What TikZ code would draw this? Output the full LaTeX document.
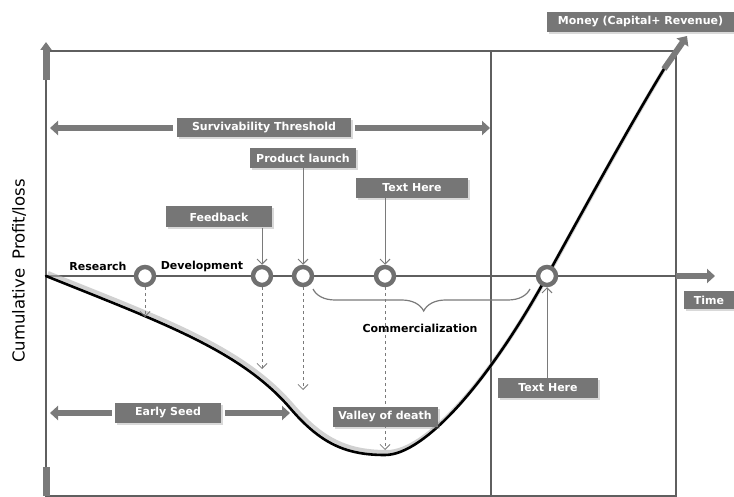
\documentclass[tikz,border=0pt]{standalone}
\usepackage{fontspec}
\setmainfont{DejaVu Sans}
\usetikzlibrary{positioning,arrows.meta,shadows,decorations.pathreplacing}
\definecolor{boxgray}{RGB}{118,118,118}
\definecolor{arrgray}{RGB}{122,122,122}
\definecolor{framegray}{RGB}{95,95,95}
\definecolor{ringgray}{RGB}{112,112,112}

\begin{document}
\begin{tikzpicture}[
  x=1pt, y=-1pt,
  tag/.style={fill=boxgray, text=white, font=\fontsize{11}{13}\selectfont\bfseries,
    minimum height=20pt, inner sep=0pt,
    drop shadow={shadow xshift=2pt, shadow yshift=-2pt, opacity=0.3}},
  lbl/.style={font=\fontsize{11}{13}\selectfont\bfseries},
  frame/.style={draw=framegray, line width=1.4pt},
  fat/.style={draw=arrgray, line width=6pt, -{Triangle[width=14pt,length=8pt]}},
  ring/.style={circle, draw=ringgray, line width=4.5pt, fill=white, minimum size=18pt,
    inner sep=0pt, drop shadow={shadow xshift=1.5pt, shadow yshift=-1.5pt, opacity=0.3}},
  pointer/.style={draw=arrgray, line width=1pt, -{Straight Barb[length=5pt,width=10pt]}},
  dashptr/.style={pointer, dashed, line width=0.8pt}
]
\useasboundingbox (0,0) rectangle (734,497);

% --- frame and axes ---
\draw[frame] (46,51) rectangle (676,496);
\draw[frame] (491,51) -- (491,496);
\coordinate (orig) at (46,276);
\coordinate (tend) at (676,276);
\coordinate (ttip) at (715,276);
\coordinate (ybot) at (46,80);
\coordinate (ytip) at (46,42);
\draw[frame] (orig) -- (tend);
\draw[fat] (tend) -- (ttip);
\draw[fat, line width=7pt, -{Triangle[width=11pt,length=8pt]}] (ybot) -- (ytip);
\fill[arrgray] (42.5,467) rectangle (49.5,496);
\node[rotate=90, font=\fontsize{16.5}{19}\selectfont] (ylab) at (19,271) {Cumulative\hspace{9pt}Profit/loss};

% --- profit curve ---
\def\curve{(46,276) .. controls (160,322) and (240,350) .. (290,408)
  .. controls (320,443) and (345,455) .. (385,455)
  .. controls (425,455) and (490,380) .. (547,276)
  .. controls (585,207) and (630,125) .. (664,69)}
\draw[black!30, line width=4pt, xshift=2pt, yshift=3pt, opacity=0.6] \curve;
\draw[black, line width=2.6pt, line cap=round] \curve;
\coordinate (cend) at (664,69);
\coordinate (mtip) at (687,36);
\draw[fat] (cend) -- (mtip);

% --- milestones ---
\node[ring] (cres) at (145,276) {};
\node[ring] (cfeed) at (262,276) {};
\node[ring] (claunch) at (303,276) {};
\node[ring] (ctxt) at (385,276) {};
\node[ring] (cbe) at (547,276) {};

\node[lbl] (research) at (98,266) {Research};
\node[lbl] (develop) at (202,266) {Development};
\node[lbl] (commerce) at (420,328) {Commercialization};
\draw[draw=arrgray, line width=1.2pt, decorate,
  decoration={brace, amplitude=22pt, aspect=0.49}] (530,289) -- (313,289);

\coordinate (dres) at (145,317);
\coordinate (dfeed) at (262,369);
\coordinate (dlaunch) at (303,390);
\coordinate (dtxt) at (385,450);
\draw[dashptr] (cres.south) -- (dres);
\draw[dashptr] (cfeed.south) -- (dfeed);
\draw[dashptr] (claunch.south) -- (dlaunch);
\draw[dashptr] (ctxt.south) -- (dtxt);

% --- boxes ---
\node[tag, minimum width=174pt, minimum height=19pt] (surv) at (264,128) {Survivability Threshold};
\coordinate (survl) at (50,128);
\coordinate (survr) at (490,128);
\draw[fat] ([xshift=-4pt]surv.west) -- (survl);
\draw[fat] ([xshift=4pt]surv.east) -- (survr);

\node[tag, minimum width=106pt] (launch) at (303,158) {Product launch};
\draw[pointer] (launch.south) -- (claunch.north);

\node[tag, minimum width=106pt, minimum height=21pt] (feed) at (219,217) {Feedback};
\draw[pointer] (feed.south -| cfeed) -- (cfeed.north);

\node[tag, minimum width=112pt] (txtA) at (412,188) {Text Here};
\draw[pointer] (txtA.south -| ctxt) -- (ctxt.north);

\node[tag, minimum width=187pt] (money) at (640.5,22) {Money (Capital+ Revenue)};
\node[tag, minimum width=50pt, minimum height=17pt] (time) at (709,300) {Time};

\node[tag, minimum width=100pt] (txtB) at (548,388) {Text Here};
\draw[pointer] (txtB.north -| cbe) -- (cbe.south);

\node[tag, minimum width=105pt] (valley) at (385,417) {Valley of death};

\node[tag, minimum width=106pt] (seed) at (168,413) {Early Seed};
\coordinate (seedl) at (50,413);
\coordinate (seedr) at (290,413);
\draw[fat] ([xshift=-3pt]seed.west) -- (seedl);
\draw[fat] ([xshift=4pt]seed.east) -- (seedr);
\end{tikzpicture}
\end{document}
